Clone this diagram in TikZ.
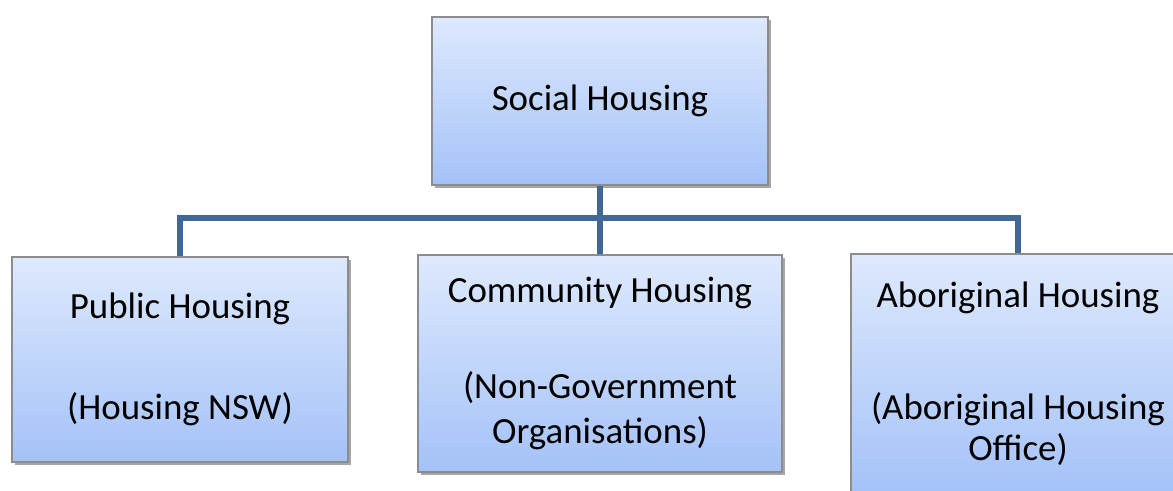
\documentclass[tikz,border=0pt]{standalone}
\usepackage{fontspec}
\setmainfont{Carlito}
\usetikzlibrary{positioning, shadows}

\definecolor{azzurrochiaro}{RGB}{222,233,253}
\definecolor{azzurroscuro}{RGB}{164,194,248}
\definecolor{bordo}{RGB}{140,140,140}
\definecolor{bluramo}{RGB}{64,103,150}

\begin{document}
\begin{tikzpicture}[
  font=\fontsize{21}{25.5}\selectfont,
  casella/.style={draw=bordo, line width=0.6pt, align=center, inner sep=2pt,
                  top color=azzurrochiaro, bottom color=azzurroscuro,
                  drop shadow={shadow xshift=1.6pt, shadow yshift=-1.6pt,
                               opacity=0.35, fill=black}},
  ramo/.style={draw=bluramo, line width=3pt}
]

\clip (0,0) rectangle (23.46,-9.8);

%--------------------------------------------------------------
% Livello superiore
%--------------------------------------------------------------
\node[casella, minimum width=6.72cm, minimum height=3.36cm] (sociale) at (12.0,-2.02)
  {Social Housing};

%--------------------------------------------------------------
% Le tre forme di alloggio
%--------------------------------------------------------------
\node[casella, minimum width=6.72cm, minimum height=4.10cm] (pubblica) at (3.60,-7.19)
  {Public Housing\\[32pt](Housing NSW)};
\node[casella, minimum width=7.28cm, minimum height=4.34cm] (comunita) at (12.0,-7.27)
  {Community Housing\\[29.5pt](Non-Government\\Organisations)};
\node[casella, minimum width=6.68cm, minimum height=4.78cm] (aborigena) at (20.36,-7.47)
  {Aboriginal Housing\\[38.5pt](Aboriginal Housing\\[-2.5pt]Office)};

%--------------------------------------------------------------
% Collegamenti
%--------------------------------------------------------------
\coordinate (snodo) at (12.0,-4.36);
\draw[ramo] (sociale.south) -- (snodo);
\draw[ramo] (pubblica.north) |- (snodo) -| (aborigena.north);
\draw[ramo] (snodo) -- (comunita.north);

\end{tikzpicture}
\end{document}
